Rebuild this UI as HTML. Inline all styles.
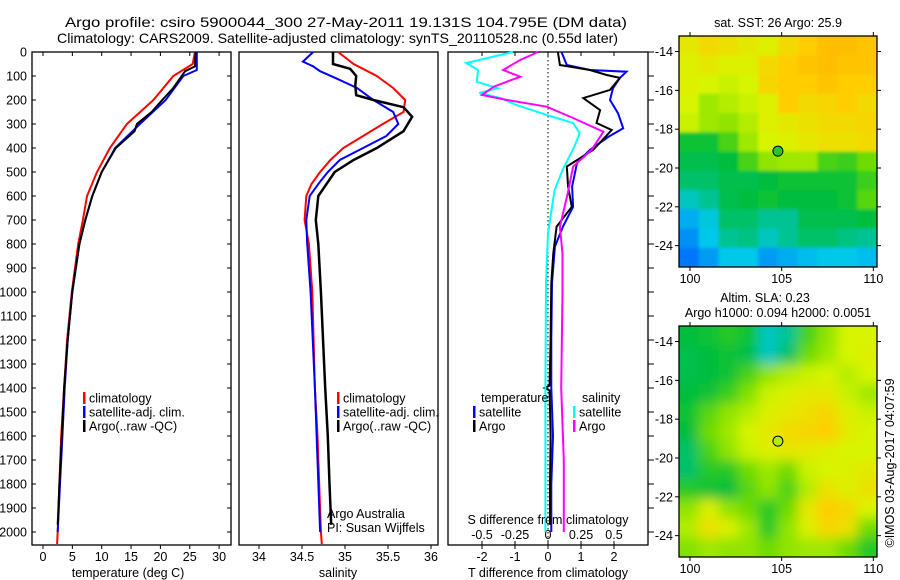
<!DOCTYPE html>
<html><head><meta charset="utf-8"><style>
body{margin:0;background:#fff}
svg{display:block;font-family:"Liberation Sans",sans-serif}
</style></head><body>
<svg id="chart" width="900" height="580" viewBox="0 0 900 580" xmlns="http://www.w3.org/2000/svg">
<defs>
<filter id="blurSla" x="-5%" y="-5%" width="110%" height="110%"><feGaussianBlur stdDeviation="6"/></filter>
<filter id="blurSst" x="-5%" y="-5%" width="110%" height="110%"><feGaussianBlur stdDeviation="1.5"/></filter>
<clipPath id="clip-sst-map"><rect x="679" y="36" width="198" height="231"/></clipPath>
<clipPath id="clip-sla-map"><rect x="679" y="326" width="198" height="231"/></clipPath>
</defs>
<rect width="900" height="580" fill="#fff"/>
<text x="65" y="27" font-size="14" textLength="562" lengthAdjust="spacingAndGlyphs">Argo profile: csiro 5900044_300 27-May-2011 19.131S 104.795E (DM data)</text>
<text x="57" y="43" font-size="14" textLength="561" lengthAdjust="spacingAndGlyphs">Climatology: CARS2009. Satellite-adjusted climatology: synTS_20110528.nc (0.55d later)</text>
<g id="g"></g>
</svg>
<script>
// ---- profile data ----
const tClimDepth=[0,50,100,200,300,400,500,600,700,800,1000,1200,1400,1600,1800,2000,2050];
const tClimVal=[25.9,25.5,22.2,18.8,14.3,11.4,9.2,7.5,6.8,6.0,4.9,4.1,3.6,3.1,2.8,2.5,2.4];
const tSatDepth=[0,75,100,200,300,400,500,600,700,800,1000,1200,1400,1600,1800,2000];
const tSatVal=[26.2,26.2,23.9,20.9,16.5,12.3,10.0,8.4,7.2,6.2,5.0,4.2,3.7,3.3,2.9,2.5];
const tArgoDepth=[0,60,80,150,200,250,300,330,400,500,600,700,800,1000,1200,1400,1600,1800,1970];
const tArgoVal=[26.0,25.9,24.2,22.2,20.3,18.5,16.0,15.6,12.4,10.0,8.4,7.2,6.2,5.0,4.2,3.6,3.2,2.8,2.5];

const sClimDepth=[0,50,100,150,200,250,300,350,400,450,500,550,600,700,800,1000,1400,1600,1800,2000,2050];
const sClimVal=[34.92,35.1,35.37,35.56,35.70,35.68,35.44,35.21,34.98,34.83,34.71,34.61,34.55,34.53,34.58,34.62,34.65,34.68,34.70,34.72,34.73];
const sSatDepth=[0,40,60,80,110,150,200,250,300,350,400,450,500,550,600,700,800,1000,1400,2000];
const sSatVal=[34.63,34.51,34.63,34.71,34.9,35.14,35.33,35.56,35.62,35.48,35.21,34.94,34.80,34.69,34.59,34.55,34.56,34.6,34.65,34.71];
const sArgoDepth=[0,50,70,100,140,180,200,230,270,330,400,450,500,600,700,800,1000,1400,1600,1800,1970];
const sArgoVal=[34.86,34.86,35.06,35.13,35.12,35.13,35.33,35.68,35.78,35.68,35.37,35.1,34.88,34.69,34.66,34.69,34.72,34.77,34.8,34.82,34.84];

const dTSatDepth=[0,54,75,82,108,151,200,255,318,354,408,463,561,645,728,811,963,1200,1400,1600,1800,2000];
const dTSatVal=[0.41,0.57,1.27,2.38,2.18,1.97,1.88,2.12,2.28,1.82,1.27,0.88,0.73,0.76,0.45,0.21,0.12,0.1,0.1,0.15,0.1,0.1];
const dTArgoDepth=[0,54,75,96,108,158,192,242,296,325,408,477,561,645,728,839,963,1200,1390,1400,1410,1600,1800,1970];
const dTArgoVal=[0.3,0.36,1.27,1.78,2.18,1.88,1.07,1.58,1.47,1.93,1.37,0.57,0.61,0.72,0.26,0.16,0.1,0.08,0.05,-0.1,0.05,0.08,0.06,0.06];
const dSSatDepth=[0,46,75,124,151,171,192,221,262,296,338,394,492,575,756,963,1400,2000];
const dSSatVal=[-0.265,-0.62,-0.53,-0.54,-0.38,-0.52,-0.36,-0.24,-0.01,0.19,0.24,0.2,0.11,0.05,0,-0.015,-0.02,-0.02];
const dSArgoDepth=[0,33,75,103,144,179,200,228,275,332,408,477,588,728,839,1005,1400,1700,2000];
const dSArgoVal=[-0.075,-0.21,-0.34,-0.21,-0.41,-0.5,-0.31,-0.01,0.19,0.42,0.33,0.19,0.15,0.09,0.11,0.11,0.1,0.12,0.12];

// ---- map data (rows north->south, cols west->east) ----
const mapLatEdges=[13.2,25.1];
const mapLonEdges=[99.4,110.2];
const sstGrid=[
[.75,.8,.78,.75,.72,.8,.85,.9,.9,.88],
[.72,.75,.72,.72,.8,.85,.88,.9,.88,.88],
[.72,.7,.68,.7,.82,.85,.85,.88,.85,.85],
[.7,.62,.65,.68,.72,.85,.8,.82,.85,.8],
[.68,.62,.6,.65,.72,.75,.78,.8,.8,.82],
[.42,.42,.5,.62,.7,.72,.75,.78,.78,.8],
[.38,.38,.4,.5,.6,.62,.62,.5,.48,.55],
[.35,.35,.38,.38,.4,.42,.42,.42,.42,.48],
[.25,.3,.38,.4,.42,.4,.4,.4,.42,.52],
[.15,.22,.35,.35,.3,.3,.38,.38,.38,.4],
[.1,.2,.3,.32,.25,.3,.35,.35,.32,.3],
[.05,.12,.2,.2,.12,.15,.18,.2,.2,.18]];
const slaGrid=[
[.4,.42,.45,.42,.25,.3,.5,.6,.7,.7],
[.38,.4,.42,.38,.25,.35,.55,.62,.7,.72],
[.38,.4,.42,.5,.6,.65,.68,.7,.65,.7],
[.4,.42,.48,.58,.68,.72,.75,.75,.68,.62],
[.42,.52,.6,.65,.72,.75,.78,.82,.72,.68],
[.4,.55,.62,.7,.75,.8,.82,.85,.75,.7],
[.35,.5,.6,.68,.72,.75,.75,.72,.7,.7],
[.35,.45,.45,.55,.62,.55,.68,.7,.72,.75],
[.45,.42,.4,.52,.6,.5,.65,.78,.72,.78],
[.6,.72,.6,.55,.45,.55,.75,.85,.82,.7],
[.65,.78,.72,.62,.45,.6,.72,.82,.78,.55],
[.58,.62,.6,.6,.55,.6,.62,.62,.55,.45]];
const floatLon=104.795, floatLat=19.131;
const sstMarkerVal=0.45, slaMarkerVal=0.65;

const depthTicks=[0,100,200,300,400,500,600,700,800,900,1000,1100,1200,1300,1400,1500,1600,1700,1800,1900,2000];
const tempTicks=[0,5,10,15,20,25,30];
const salTicks=[34,34.5,35,35.5,36];
const tDiffTicks=[-2,-1,0,1,2];
const sDiffTicks=[-0.5,-0.25,0,0.25,0.5];
const sDiffLabels=["-0.5","-0.25","0","0.25","0.5"];
const latTicks=[14,16,18,20,22,24];
const lonTicks=[100,105,110];

const NS="http://www.w3.org/2000/svg";
const G=document.getElementById('g');
function el(tag,attrs,parent){const e=document.createElementNS(NS,tag);for(const k in attrs)e.setAttribute(k,attrs[k]);(parent||G).appendChild(e);return e;}
function txt(s,attrs,parent){const e=el('text',attrs,parent);e.textContent=s;return e;}

const yD=d=>52+d*0.24;
const xT=v=>43+v*5.87;
const xS=v=>259+(v-34)*86;
const xdT=v=>548+v*33;
const xdS=v=>548+v*132;

function line(depths,vals,xf,color,name,w){
  const p=el('polyline',{points:depths.map((d,i)=>xf(vals[i]).toFixed(1)+','+yD(d).toFixed(1)).join(' '),fill:'none',stroke:color,'stroke-width':w||2});
  
  
}
function box(x0,x1,name){
  const r=el('rect',{x:x0,y:52,width:x1-x0,height:493,fill:'none',stroke:'#000','stroke-width':1.3});
  
  
}

depthTicks.forEach(d=>{
  const t=txt(String(d),{x:27,y:yD(d)+4.5,'font-size':12.5,'text-anchor':'end'});
  
  
  el('line',{x1:32,x2:36,y1:yD(d),y2:yD(d),stroke:'#000'});
  el('line',{x1:227,x2:231,y1:yD(d),y2:yD(d),stroke:'#000'});
  el('line',{x1:648,x2:654,y1:yD(d),y2:yD(d),stroke:'#000'});
});

// Panel 1
box(32,231,'temperature-panel');
tempTicks.forEach(v=>{
  el('line',{x1:xT(v),x2:xT(v),y1:545,y2:549,stroke:'#000'});
  el('line',{x1:xT(v),x2:xT(v),y1:52,y2:56,stroke:'#000'});
  const t=txt(String(v),{x:xT(v),y:561,'font-size':12.5,'text-anchor':'middle'});
  
  
});
txt('temperature (deg C)',{x:128,y:577,'font-size':12.5,'text-anchor':'middle',});
line(tClimDepth,tClimVal,xT,'#ff0000','temp-climatology-line');
line(tSatDepth,tSatVal,xT,'#0000ff','temp-satellite-line');
line(tArgoDepth,tArgoVal,xT,'#000000','temp-argo-line');

// Panel 2
box(239,438,'salinity-panel');
salTicks.forEach(v=>{
  el('line',{x1:xS(v),x2:xS(v),y1:545,y2:549,stroke:'#000'});
  const t=txt(String(v),{x:xS(v),y:561,'font-size':12.5,'text-anchor':'middle'});
  
  
});
txt('salinity',{x:338,y:577,'font-size':12.5,'text-anchor':'middle',});
line(sClimDepth,sClimVal,xS,'#ff0000','sal-climatology-line');
line(sSatDepth,sSatVal,xS,'#0000ff','sal-satellite-line');
line(sArgoDepth,sArgoVal,xS,'#000000','sal-argo-line',2.5);
txt('Argo Australia',{x:327,y:518,'font-size':12.5,});
txt('PI: Susan Wijffels',{x:327,y:532,'font-size':12.5,});

function legend(x,y,color,label,name){
  const g=el('g',{});
  
  
  el('rect',{x:x,y:y-6,width:2.5,height:12,fill:color},g);
  txt(label,{x:x+6,y:y+4.5,'font-size':12.5},g);
}
legend(83,398,'#ff0000','climatology','legend-temp-climatology');
legend(83,412,'#0000ff','satellite-adj. clim.','legend-temp-satellite');
legend(83,426,'#000000','Argo(..raw -QC)','legend-temp-argo');
legend(337,398,'#ff0000','climatology','legend-sal-climatology');
legend(337,412,'#0000ff','satellite-adj. clim.','legend-sal-satellite');
legend(337,426,'#000000','Argo(..raw -QC)','legend-sal-argo');

// Panel 3
box(448,648,'difference-panel');
el('line',{x1:548,x2:548,y1:52,y2:545,stroke:'#000','stroke-dasharray':'1.5,2.5',});
tDiffTicks.forEach(v=>{
  el('line',{x1:xdT(v),x2:xdT(v),y1:52,y2:56,stroke:'#000'});
  el('line',{x1:xdT(v),x2:xdT(v),y1:545,y2:549,stroke:'#000'});
  const t=txt(String(v),{x:xdT(v),y:561,'font-size':12.5,'text-anchor':'middle'});
  
  
});
sDiffTicks.forEach((v,i)=>{
  el('line',{x1:xdS(v),x2:xdS(v),y1:541,y2:545,stroke:'#000'});
  const t=txt(sDiffLabels[i],{x:xdS(v),y:539,'font-size':12.5,'text-anchor':'middle'});
  
  
});
line(dTSatDepth,dTSatVal,xdT,'#0000ff','t-diff-satellite-line');
line(dTArgoDepth,dTArgoVal,xdT,'#000000','t-diff-argo-line');
line(dSSatDepth,dSSatVal,xdS,'#00ffff','s-diff-satellite-line');
line(dSArgoDepth,dSArgoVal,xdS,'#ff00ff','s-diff-argo-line');
txt('S difference from climatology',{x:548,y:524,'font-size':12.5,'text-anchor':'middle',});
txt('T difference from climatology',{x:548,y:577,'font-size':12.5,'text-anchor':'middle',});
txt('temperature',{x:481,y:402,'font-size':12.5,});
txt('salinity',{x:582,y:402,'font-size':12.5,});
legend(473,412,'#0000ff','satellite','legend-tdiff-satellite');
legend(473,426,'#000000','Argo','legend-tdiff-argo');
legend(573,412,'#00ffff','satellite','legend-sdiff-satellite');
legend(573,426,'#ff00ff','Argo','legend-sdiff-argo');

// ---- maps ----
const cstops=[[0,[0,90,255]],[0.2,[0,200,235]],[0.4,[0,190,60]],[0.55,[110,220,0]],[0.7,[215,245,0]],[0.85,[255,205,0]],[1,[255,160,0]]];
function cmap(v){
  for(let i=1;i<cstops.length;i++){if(v<=cstops[i][0]){const a=cstops[i-1],b=cstops[i];const t=(v-a[0])/(b[0]-a[0]);return 'rgb('+a[1].map((c,k)=>Math.round(c+(b[1][k]-c)*t)).join(',')+')';}}
  return 'rgb(255,160,0)';
}
function drawMap(top,grid,name,filterId,markerVal){
  const x0=679,x1=877,h=231,bottom=top+h;
  const xL=lon=>x0+(lon-mapLonEdges[0])/(mapLonEdges[1]-mapLonEdges[0])*(x1-x0);
  const yL=lat=>top+(lat-mapLatEdges[0])/(mapLatEdges[1]-mapLatEdges[0])*h;
  const g=el('g',{});
  
  
  const clipG=el('g',{'clip-path':'url(#clip-'+name+')'},g);
  const cells=el('g',{filter:'url(#'+filterId+')'},clipG);
  const rows=grid.length,cols=grid[0].length;
  const dLat=(mapLatEdges[1]-mapLatEdges[0])/rows,dLon=(mapLonEdges[1]-mapLonEdges[0])/cols;
  grid.forEach((row,r)=>row.forEach((v,c)=>{
    let x=xL(mapLonEdges[0]+c*dLon),y=yL(mapLatEdges[0]+r*dLat),w=(x1-x0)/cols+0.5,hh=h/rows+0.5;
    if(c===0){x-=12;w+=12;} if(c===cols-1){w+=12;}
    if(r===0){y-=12;hh+=12;} if(r===rows-1){hh+=12;}
    const cell=el('rect',{x:x,y:y,width:w,height:hh,fill:cmap(v)},cells);
    
    
  }));
  el('rect',{x:x0,y:top,width:x1-x0,height:h,fill:'none',stroke:'#000','stroke-width':1.3},g);
  const m=el('circle',{cx:xL(floatLon),cy:yL(floatLat),r:5,fill:cmap(markerVal),stroke:'#000','stroke-width':1},g);
  
  
  latTicks.forEach(l=>{
    el('line',{x1:x0-4,x2:x0,y1:yL(l),y2:yL(l),stroke:'#000'},g);
    el('line',{x1:x1,x2:x1+4,y1:yL(l),y2:yL(l),stroke:'#000'},g);
    const t=txt('-'+l,{x:x0-6,y:yL(l)+4.5,'font-size':12.5,'text-anchor':'end'},g);
    
    
  });
  lonTicks.forEach(l=>{
    el('line',{x1:xL(l),x2:xL(l),y1:top-4,y2:top,stroke:'#000'},g);
    el('line',{x1:xL(l),x2:xL(l),y1:bottom,y2:bottom+4,stroke:'#000'},g);
    const t=txt(String(l),{x:xL(l),y:bottom+16,'font-size':12.5,'text-anchor':'middle'},g);
    
    
  });
}
drawMap(36,sstGrid,'sst-map','blurSst',sstMarkerVal);
drawMap(326,slaGrid,'sla-map','blurSla',slaMarkerVal);
txt('sat. SST: 26 Argo: 25.9',{x:778,y:27,'font-size':12.5,'text-anchor':'middle',});
txt('Altim. SLA: 0.23',{x:765,y:302,'font-size':12.5,'text-anchor':'middle',});
txt('Argo h1000: 0.094 h2000: 0.0051',{x:778,y:317,'font-size':12.5,'text-anchor':'middle',});
txt('©IMOS 03-Aug-2017 04:07:59',{x:0,y:0,'font-size':12.5,'text-anchor':'middle',transform:'translate(894,463) rotate(-90)',});
</script>
</body></html>
